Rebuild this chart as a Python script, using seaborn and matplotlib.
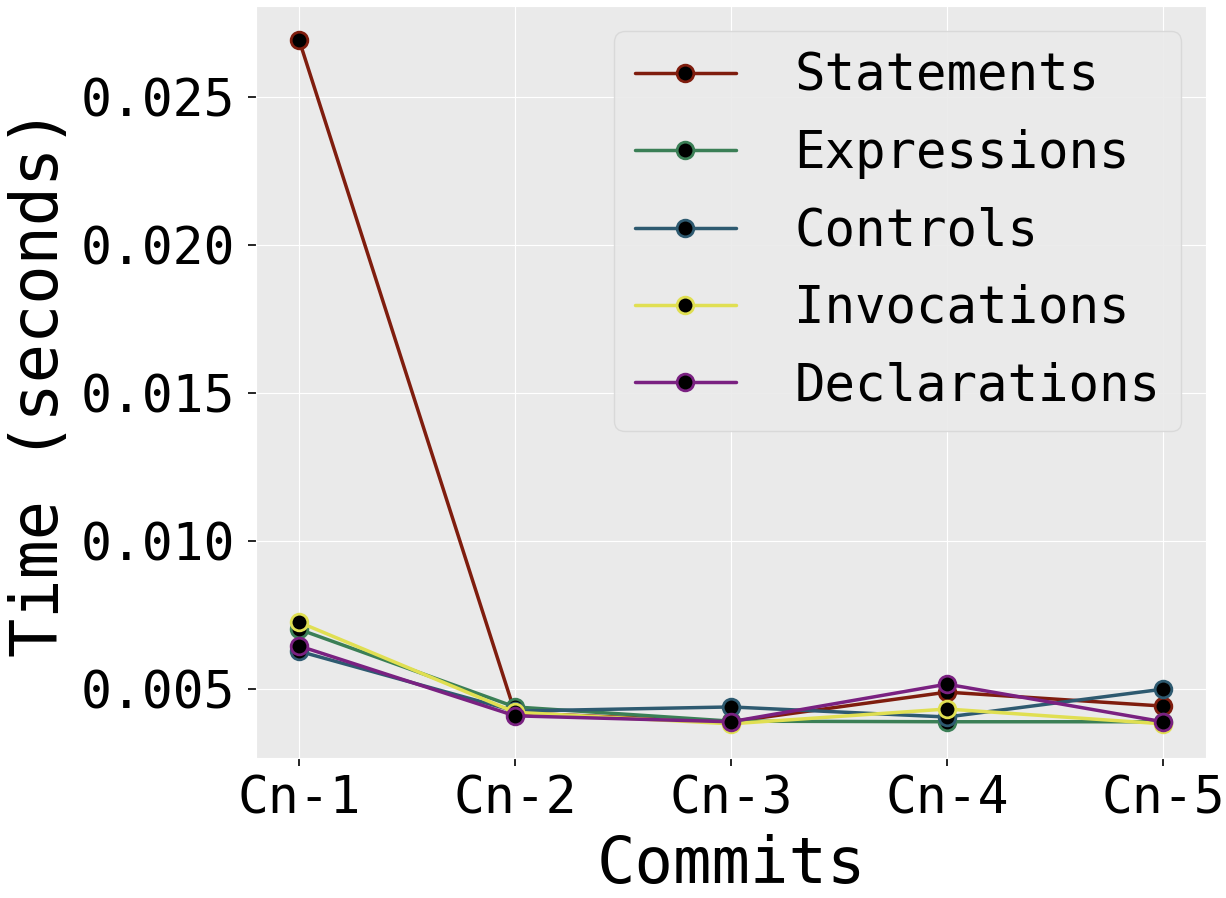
import matplotlib
matplotlib.use("Agg")
import matplotlib.pyplot as plt
import pandas as pd
import seaborn as sns

commits = ["Cn-1", "Cn-2", "Cn-3", "Cn-4", "Cn-5"]
statements = [0.02692, 0.00420, 0.00390, 0.00490, 0.00443]
expressions = [0.00702, 0.00440, 0.00392, 0.00390, 0.00390]
controls = [0.00628, 0.00426, 0.00440, 0.00406, 0.00500]
invocations = [0.00726, 0.00422, 0.00383, 0.00433, 0.00383]
declarations = [0.00646, 0.00410, 0.00390, 0.00517, 0.00390]

series = {
    "Statements": statements,
    "Expressions": expressions,
    "Controls": controls,
    "Invocations": invocations,
    "Declarations": declarations,
}
colors = ["#7f1d0e", "#3b7f56", "#2e5a70", "#e0df52", "#7a2181"]

rows = []
for name, vals in series.items():
    for c, v in zip(commits, vals):
        rows.append({"Commits": c, "Time": v, "Type": name})
df = pd.DataFrame(rows)

sns.set_style("darkgrid", {"axes.facecolor": "#eaeaea", "grid.color": "white",
                           "xtick.bottom": True, "ytick.left": True,
                           "text.color": "black", "axes.labelcolor": "black",
                           "xtick.color": "black", "ytick.color": "black"})
plt.rcParams["font.family"] = ["DejaVu Sans Mono", "DejaVu Sans"]
plt.rcParams["xtick.major.size"] = 6
plt.rcParams["ytick.major.size"] = 6
plt.rcParams["xtick.major.width"] = 1.2
plt.rcParams["ytick.major.width"] = 1.2

fig, ax = plt.subplots(figsize=(12.26, 8.98), dpi=100)
sns.lineplot(data=df, x="Commits", y="Time", hue="Type", palette=colors,
             marker="o", markersize=12, linewidth=2.5, ax=ax, sort=False)

for line in ax.lines:
    line.set_markerfacecolor("black")
    line.set_markeredgecolor(line.get_color())
    line.set_markeredgewidth(2)

ax.set_xlabel("Commits", fontsize=46, labelpad=7)
ax.set_ylabel("Time (seconds)", fontsize=47, labelpad=6)
ax.tick_params(axis="x", labelsize=37, pad=6)
ax.tick_params(axis="y", labelsize=37, pad=9)

leg = ax.legend(loc="upper right", fontsize=36.5, handletextpad=1.15,
                labelspacing=0.54, facecolor="#eaeaea", edgecolor="#d8d8d8",
                framealpha=0.9)
for h in leg.get_lines():
    h.set_markerfacecolor("black")
    h.set_markeredgecolor(h.get_color())
    h.set_markeredgewidth(2)
    h.set_markersize(12)
    h.set_linewidth(2.5)

fig.subplots_adjust(left=0.2088, right=0.9837, top=0.9933, bottom=0.1559)
fig.savefig("out.png", dpi=100)
